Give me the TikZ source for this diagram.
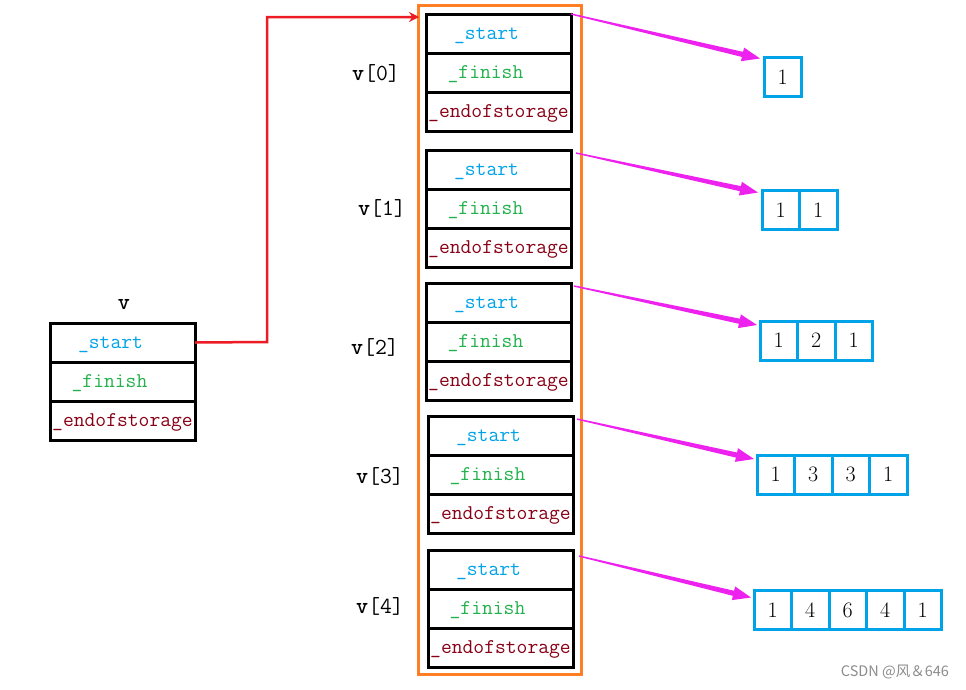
\documentclass[tikz,border=0pt]{standalone}
\usepackage{fontspec}
\newfontfamily\cjk{Noto Sans CJK SC}
\usetikzlibrary{calc,arrows.meta}
\definecolor{cstart}{HTML}{00A2E8}
\definecolor{cfinish}{HTML}{22B14C}
\definecolor{cend}{HTML}{880015}
\definecolor{corange}{HTML}{FF7F27}
\definecolor{cblue}{HTML}{00A2E8}
\definecolor{cmag}{HTML}{EE22EE}
\definecolor{cred}{HTML}{ED1C24}
\tikzset{
  cell/.style={draw=black, line width=3pt, outer sep=0pt, minimum width=145pt, minimum height=39pt, inner sep=0pt, anchor=north west},
  txt/.style={font=\ttfamily\fontsize{21}{24}\selectfont, inner sep=0pt},
  st/.style={txt, text=cstart},
  fi/.style={txt, text=cfinish},
  en/.style={txt, text=cend},
  lab/.style={font=\ttfamily\fontsize{23}{26}\selectfont, inner sep=0pt},
  acell/.style={draw=cblue, line width=3pt, outer sep=0pt, minimum width=37.5pt, minimum height=39pt, inner sep=0pt, anchor=west, font=\fontsize{22}{26}\selectfont},
}
\newcommand\vblock[3]{%
  \node[cell] (#1s) at (#2,#3) {};
  \node[cell] (#1f) at (#1s.south west) {};
  \node[cell] (#1e) at (#1f.south west) {};
  \node[st] (#1st) at ([xshift=-12pt,yshift=-2pt]#1s.center) {\_start};
  \node[fi] (#1ft) at ([xshift=-13pt,yshift=-2pt]#1f.center) {\_finish};
  \node[en] (#1et) at ([yshift=-2pt]#1e.center) {\_endofstorage};
}
\newcommand\taper[2]{%
  \coordinate (tS) at (#1);
  \coordinate (tT) at (#2);
  \coordinate (tH) at ($(tT)!18pt!(tS)$);
  \fill[cmag] ($(tS)!0.7pt!90:(tT)$) -- ($(tH)!2.6pt!90:(tT)$) -- ($(tH)!7pt!90:(tT)$) -- (tT)
    -- ($(tH)!7pt!-90:(tT)$) -- ($(tH)!2.6pt!-90:(tT)$) -- ($(tS)!0.7pt!-90:(tT)$) -- cycle;
}
\begin{document}
\begin{tikzpicture}[x=1pt,y=-1pt]
\useasboundingbox (0,0) rectangle (966,689);
% left block v
\node[font=\bfseries\ttfamily\fontsize{23}{26}\selectfont, inner sep=0pt] (vlab) at (124,305) {v};
\vblock{v}{50}{323}
% orange vector box
\node[draw=corange, line width=3pt, outer sep=0pt, minimum width=163pt, minimum height=669pt, inner sep=0pt] (vec) at (499.5,339.5) {};
% blocks
\vblock{b0}{426}{14}
\vblock{b1}{426}{150}
\vblock{b2}{426}{283}
\vblock{b3}{428}{416}
\vblock{b4}{428}{550}
\node[lab] (l0) at (376,73) {\textbf{v}[0]};
\node[lab] (l1) at (382,208) {\textbf{v}[1]};
\node[lab] (l2) at (375,347) {\textbf{v}[2]};
\node[lab] (l3) at (380,476) {\textbf{v}[3]};
\node[lab] (l4) at (380,606) {\textbf{v}[4]};
% red pointer
\coordinate (rt) at (419,17);
\draw[cred, line width=2.5pt, -{Stealth[length=10pt,width=10pt]}] (vs.east) -- (267,342) |- (rt);
% arrays
\node[acell] (a0a) at (764,77) {1};
\node[acell] (a1a) at (762,210) {1};
\node[acell] (a1b) at (a1a.east) {1};
\node[acell] (a2a) at (760,340.5) {1};
\node[acell] (a2b) at (a2a.east) {2};
\node[acell] (a2c) at (a2b.east) {1};
\node[acell] (a3a) at (757,474.5) {1};
\node[acell] (a3b) at (a3a.east) {3};
\node[acell] (a3c) at (a3b.east) {3};
\node[acell] (a3d) at (a3c.east) {1};
\node[acell] (a4a) at (754,610) {1};
\node[acell] (a4b) at (a4a.east) {4};
\node[acell] (a4c) at (a4b.east) {6};
\node[acell] (a4d) at (a4c.east) {4};
\node[acell] (a4e) at (a4d.east) {1};
% magenta arrows
\taper{b0s.north east}{$(a0a.north west)+(-4,1)$}
\taper{$(b1s.north east)+(5,3)$}{$(a1a.north west)+(-4,2)$}
\taper{$(b2s.north east)+(3,3)$}{$(a2a.north west)+(-3,4)$}
\taper{$(b3s.north east)+(4,3)$}{$(a3a.north west)+(-3,4)$}
\taper{$(b4s.north east)+(6,6)$}{$(a4a.north west)+(-3,7)$}
% watermark
\node[font=\cjk\fontsize{14.5}{16}\selectfont, text=black!45, inner sep=0pt] (wm) at (895,672) {CSDN @风＆646};
\end{tikzpicture}
\end{document}
